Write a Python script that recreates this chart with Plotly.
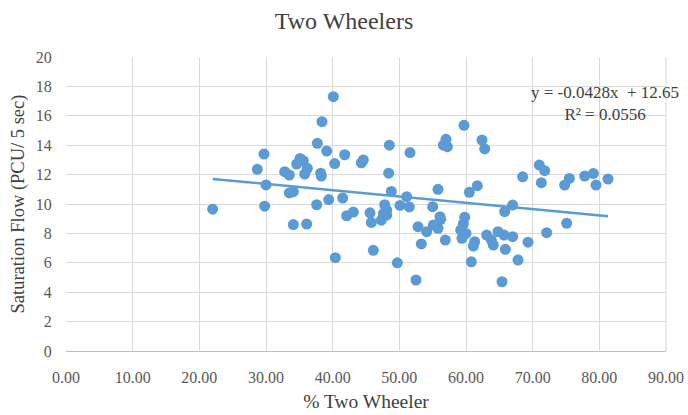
import numpy as np
import plotly.graph_objects as go

two_wheeler_pct = [
    22.0, 29.7, 28.7, 30.0, 29.8, 32.8, 33.5, 33.5, 34.1, 34.1, 36.1, 35.1, 35.6, 34.6,
    36.2, 35.8, 37.7, 38.4, 40.1, 39.1, 38.2, 38.3, 37.6, 39.4, 40.3, 41.8, 41.5, 40.4,
    42.1, 43.1, 44.6, 44.3, 45.6, 45.8, 47.3, 48.1, 47.6, 48.1, 47.8, 46.1, 48.5, 48.4,
    48.8, 49.7, 50.1, 51.1, 51.5, 51.6, 52.8, 54.1, 55.1, 55.8, 56.2, 53.3, 52.5, 55.0,
    55.8, 56.1, 56.9, 57.0, 56.6, 57.2, 59.7, 59.8, 59.6, 59.2, 60.0, 59.4, 60.5, 61.7,
    61.3, 61.1, 60.8, 62.4, 62.8, 63.1, 63.8, 64.1, 64.8, 65.7, 67.0, 65.9, 65.4, 65.8,
    67.0, 67.8, 68.5, 71.0, 71.8, 71.3, 69.3, 72.1, 75.1, 74.8, 75.5, 77.8, 79.1, 79.5,
    81.3,
]
saturation_flow = [
    9.65, 13.4, 12.36, 11.3, 9.85, 12.2, 11.97, 10.75, 10.84, 8.6, 8.64, 13.1, 12.95, 12.72,
    12.43, 12.04, 14.13, 15.6, 17.3, 13.6, 12.1, 11.9, 9.95, 10.3, 12.75, 13.35, 10.4, 6.35,
    9.2, 9.45, 13.0, 12.8, 9.4, 8.75, 8.9, 9.25, 9.35, 9.6, 9.95, 6.85, 14.0, 12.1,
    10.85, 6.0, 9.9, 10.5, 9.8, 13.5, 8.46, 8.12, 8.57, 8.35, 8.96, 7.28, 4.83, 9.82,
    11.0, 9.14, 7.55, 14.4, 14.0, 13.9, 15.35, 9.1, 8.64, 8.23, 8.0, 7.67, 10.8, 11.25,
    7.44, 7.14, 6.07, 14.35, 13.75, 7.89, 7.55, 7.21, 8.12, 7.89, 7.78, 6.92, 4.71, 9.48,
    9.93, 6.19, 11.85, 12.65, 12.27, 11.45, 7.4, 8.05, 8.69, 11.29, 11.74, 11.9, 12.08, 11.29,
    11.7,
]
trend_slope = -0.0428
trend_intercept = 12.65
r_squared = 0.0556

x_ticks = [0, 10, 20, 30, 40, 50, 60, 70, 80, 90]
y_ticks = [0, 2, 4, 6, 8, 10, 12, 14, 16, 18, 20]

blue = "#5b9bd5"
font_family = "Liberation Serif"

x_line = np.array([min(two_wheeler_pct), max(two_wheeler_pct)])
y_line = trend_slope * x_line + trend_intercept

fig = go.Figure()
fig.add_trace(go.Scatter(
    x=x_line, y=y_line, mode="lines",
    line=dict(color=blue, width=2.5), showlegend=False, hoverinfo="skip",
))
fig.add_trace(go.Scatter(
    x=two_wheeler_pct, y=saturation_flow, mode="markers",
    marker=dict(color=blue, size=11, line=dict(width=0)), showlegend=False,
))

fig.add_annotation(
    x=80.8, y=16.85, xref="x", yref="y",
    text=f"y = {trend_slope}x&nbsp; + {trend_intercept}<br>R² = {r_squared}",
    showarrow=False, align="center",
    font=dict(family=font_family, size=17, color="#404040"),
)

fig.update_layout(
    width=688, height=415,
    margin=dict(l=66, r=22, t=57, b=64),
    paper_bgcolor="white", plot_bgcolor="white",
    title=dict(text="Two Wheelers", x=0.5, xanchor="center", y=0.95, yanchor="middle",
               font=dict(family=font_family, size=24, color="#404040")),
    font=dict(family=font_family, color="#595959"),
)
fig.update_xaxes(
    range=[0, 90], tickvals=x_ticks, ticktext=[f"{v:.2f}" for v in x_ticks],
    showgrid=True, gridcolor="#d9d9d9", gridwidth=1,
    zeroline=False, showline=True, linecolor="#bfbfbf", linewidth=1,
    ticks="outside", ticklen=12, tickcolor="rgba(0,0,0,0)",
    tickfont=dict(family=font_family, size=16, color="#595959"),
    title=dict(text="% Two Wheeler", font=dict(family=font_family, size=19.5, color="#404040"),
               standoff=9),
    automargin=False,
)
fig.update_yaxes(
    range=[0, 20], tickvals=y_ticks,
    showgrid=True, gridcolor="#d9d9d9", gridwidth=1,
    zeroline=False, showline=False,
    ticks="outside", ticklen=10, tickcolor="rgba(0,0,0,0)",
    tickfont=dict(family=font_family, size=16, color="#595959"),
    title=dict(text="Saturation Flow (PCU/ 5 sec)",
               font=dict(family=font_family, size=18.5, color="#404040"), standoff=6),
    automargin=False,
)
fig.add_shape(type="line", xref="paper", yref="paper", x0=1, x1=1, y0=0, y1=1,
              line=dict(color="#d9d9d9", width=1))

fig.write_html("out.html")
